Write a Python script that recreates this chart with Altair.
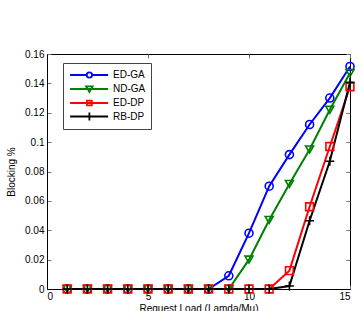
import altair as alt
import pandas as pd

loads = list(range(1, 16))
series_names = ["ED-GA", "ND-GA", "ED-DP", "RB-DP"]
ed_ga = [0, 0, 0, 0, 0, 0, 0, 0, 0.009, 0.038, 0.070, 0.0915, 0.112, 0.130, 0.1515]
nd_ga = [0, 0, 0, 0, 0, 0, 0, 0, 0, 0.020, 0.047, 0.0715, 0.095, 0.122, 0.147]
ed_dp = [0, 0, 0, 0, 0, 0, 0, 0, 0, 0, 0, 0.0125, 0.056, 0.097, 0.1377]
rb_dp = [0, 0, 0, 0, 0, 0, 0, 0, 0, 0, 0, 0.002, 0.0465, 0.087, 0.1407]
values = [ed_ga, nd_ga, ed_dp, rb_dp]

colors = ["#0000ff", "#008000", "#ff0000", "#000000"]
marker_paths = [
    "circle",
    "triangle-down",
    "square",
    "M0,-1V1M-1,0H1",
]
legend_paths = [
    "M-0.82,0H1.95M2.85,0H5.52M2.85,0A0.45,0.45 0 1,1 1.95,0A0.45,0.45 0 1,1 2.85,0",
    "M-0.82,0H5.52M1.85,-0.45L2.95,-0.45L2.4,0.5Z",
    "M-0.82,0H5.52M2.0,-0.4H2.8V0.4H2.0Z",
    "M-0.82,0H5.52M2.4,-0.65V0.65",
]
marker_sizes = [64, 64, 60, 81]

rows = []
for name, vals in zip(series_names, values):
    for x, y in zip(loads, vals):
        rows.append({"series": name, "x": x, "y": y})
df = pd.DataFrame(rows)

x_enc = alt.X("x:Q", scale=alt.Scale(domain=[0, 15], nice=False),
              axis=alt.Axis(title="Request Load (Lamda/Mu)", values=[0, 5, 10, 15],
                            format="~g", ticks=False, labelPadding=2,
                            grid=True, gridDash=[4, 227, 4, 1000],
                            gridColor="#777777", gridOpacity=1, titlePadding=2))
y_enc = alt.Y("y:Q", scale=alt.Scale(domain=[0, 0.16], nice=False),
              axis=alt.Axis(title="Blocking %", values=[0, 0.02, 0.04, 0.06, 0.08, 0.1, 0.12, 0.14, 0.16],
                            format="~g", ticks=False, labelPadding=3,
                            grid=True, gridDash=[4, 295, 4, 1000],
                            gridColor="#777777", gridOpacity=1, titlePadding=8))

layers = []
for name, col in zip(series_names, colors):
    base = alt.Chart(df).transform_filter(alt.datum.series == name)
    layers.append(base.mark_line(color=col, strokeWidth=2).encode(x=x_enc, y=y_enc))
for name, col, mp, ms in zip(series_names, colors, marker_paths, marker_sizes):
    base = alt.Chart(df).transform_filter(alt.datum.series == name)
    layers.append(base.mark_point(color=col, filled=False, shape=mp, size=ms,
                                  strokeWidth=1.6, opacity=1).encode(x=x_enc, y=y_enc))

leg = alt.Legend(orient="none", legendX=16, legendY=9, symbolSize=144,
                 symbolStrokeWidth=1.8, symbolFillColor="transparent", symbolOpacity=1,
                 labelOffset=31, padding=5, rowPadding=-0.5)
legend_layer = alt.Chart(df).transform_filter("datum.x < 0").mark_point(
    filled=False, strokeWidth=1.8, size=144, opacity=1
).encode(
    x=x_enc, y=y_enc,
    color=alt.Color("series:N", scale=alt.Scale(domain=series_names, range=colors),
                    title=None, legend=leg),
    shape=alt.Shape("series:N", scale=alt.Scale(domain=series_names, range=legend_paths),
                    title=None, legend=leg),
)
layers.append(legend_layer)

chart = alt.layer(*layers).properties(
    width=303, height=235,
    padding={"left": 47, "top": 54, "right": 12, "bottom": 22},
    autosize=alt.AutoSizeParams(type="none"),
).configure_view(
    stroke="black", strokeWidth=1
).configure_axis(
    labelFont="Liberation Sans", labelFontSize=10, labelColor="black",
    titleFont="Liberation Sans", titleFontSize=10, titleFontWeight="normal",
    titleColor="black", domainColor="black", domainWidth=1,
).configure_legend(
    labelFont="Liberation Sans", labelFontSize=10, labelColor="black",
    strokeColor="#444444", fillColor="white", cornerRadius=0,
)

chart.save("out.html", embed_options={"renderer": "svg", "actions": False})
